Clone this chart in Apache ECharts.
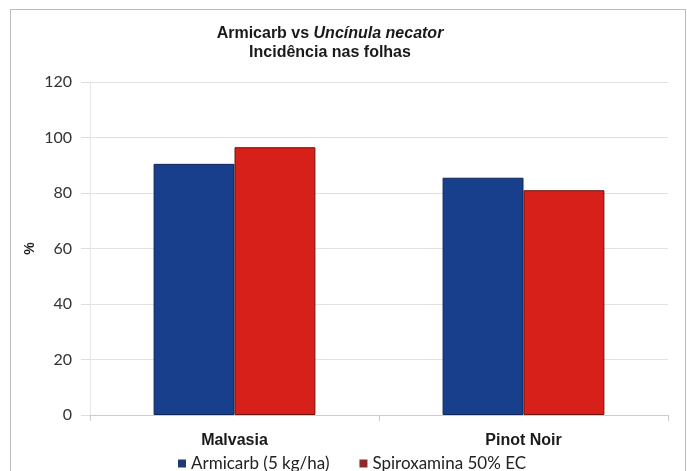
<!DOCTYPE html>
<html>
<head>
<meta charset="utf-8">
<script src="https://cdn.jsdelivr.net/npm/echarts@6/dist/echarts.min.js"></script>
<style>
    html, body { margin: 0; padding: 0; background: #fff; }
    #frame { position: absolute; left: 10px; top: 9px; width: 674px; height: 470px; border: 1px solid #bbb; border-bottom: none; }
    #chart { position: absolute; left: 0; top: 0; width: 687px; height: 471px; }
</style>
</head>
<body>
<div id="frame"></div>
<div id="chart"></div>
<script>
    const categories = ['Malvasia', 'Pinot Noir'];
    const armicarb = [90.5, 85.5];
    const spiroxamina = [96.5, 81];
    const seriesNames = ['Armicarb (5 kg/ha)', 'Spiroxamina 50% EC'];

    const chart = echarts.init(document.getElementById('chart'));
    chart.setOption({
        animation: false,
        title: {
            text: '{b|Armicarb vs }{i|Uncínula necator}\n{b|Incidência nas folhas}',
            left: 325,
            top: 19,
            textAlign: 'center',
            textStyle: {
                rich: {
                    b: { fontFamily: 'Liberation Sans', fontWeight: 'bold', fontSize: 16, color: '#1a1a1a', lineHeight: 19 },
                    i: { fontFamily: 'Liberation Sans', fontWeight: 'bold', fontStyle: 'italic', fontSize: 16, color: '#1a1a1a', lineHeight: 19 }
                }
            }
        },
        grid: {
            left: 90,
            right: 19,
            top: 82,
            bottom: 56
        },
        legend: {
            left: 173,
            top: 450,
            itemWidth: 8,
            itemHeight: 8,
            itemGap: 30,
            icon: 'rect',
            textStyle: { fontFamily: 'Lato', fontSize: 17, color: '#222' },
            data: [
                { name: seriesNames[0], itemStyle: { color: '#1f3a70', borderWidth: 0 } },
                { name: seriesNames[1], itemStyle: { color: '#8e2a26', borderWidth: 0 } }
            ]
        },
        xAxis: {
            type: 'category',
            data: categories,
            axisLine: { lineStyle: { color: '#ccc' } },
            axisTick: { show: true, length: 6, lineStyle: { color: '#ccc' } },
            axisLabel: {
                margin: 18,
                fontFamily: 'Liberation Sans',
                fontWeight: 'bold',
                fontSize: 16,
                color: '#1a1a1a'
            }
        },
        yAxis: {
            type: 'value',
            min: 0,
            max: 120,
            interval: 20,
            name: '%',
            nameLocation: 'middle',
            nameRotate: 90,
            nameGap: 53,
            nameMoveOverlap: false,
            nameTextStyle: { fontFamily: 'Liberation Sans', fontWeight: 'bold', fontSize: 14, color: '#222' },
            axisLine: { show: true, lineStyle: { color: '#e6e6e6' } },
            axisTick: { show: true, length: 9, lineStyle: { color: '#ddd' } },
            axisLabel: { margin: 18, fontFamily: 'Lato', fontSize: 16, color: '#333' },
            splitLine: { lineStyle: { color: '#e2e2e2' } }
        },
        series: [
            {
                name: seriesNames[0],
                type: 'bar',
                data: armicarb,
                barGap: '0%',
                barCategoryGap: '44%',
                itemStyle: { color: '#173f8c', borderColor: '#0e2656', borderWidth: 1 }
            },
            {
                name: seriesNames[1],
                type: 'bar',
                data: spiroxamina,
                itemStyle: { color: '#d8201a', borderColor: '#6e1410', borderWidth: 1 }
            }
        ]
    });
</script>
</body>
</html>
